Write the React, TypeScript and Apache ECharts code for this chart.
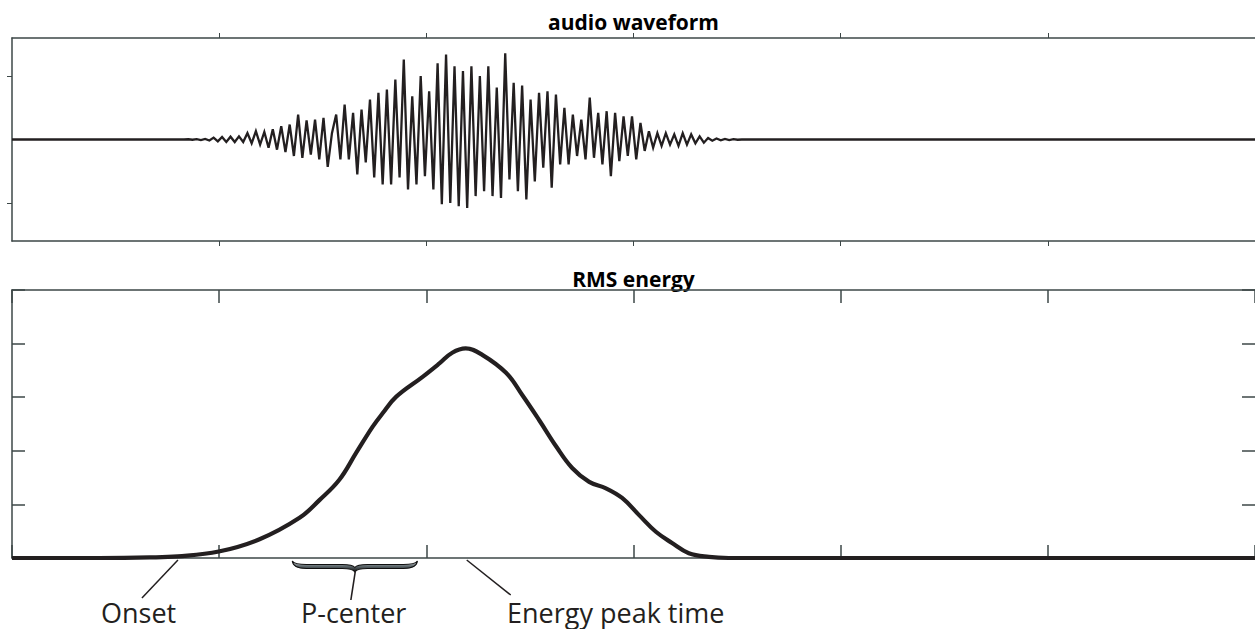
import React, { useEffect, useRef } from "react";
import * as echarts from "echarts";

// ---- data ----
const timeTicks = [0.1, 0.2, 0.3, 0.4, 0.5];
const waveTicks = [-0.5, 0.5];
const waveStart = 0.08304; // s, time of first waveform sample
const waveStep = 0.00204; // s, spacing of waveform samples (half-cycles)
const waveValues = [
  0, 0.002, -0.002, 0.003, -0.004, 0.005, -0.008, 0.015, -0.015, 0.02,
  -0.02, 0.022, -0.02, 0.025, -0.02, 0.05, -0.03, 0.065, -0.04, 0.06,
  -0.065, 0.08, -0.08, 0.105, -0.1, 0.118, -0.13, 0.197, -0.144, 0.15,
  -0.12, 0.157, -0.157, 0.17, -0.215, 0.05, 0.197, -0.157, 0.276, -0.157,
  0.21, -0.276, 0.236, -0.18, 0.315, -0.3, 0.368, -0.354, 0.394, -0.354,
  0.472, -0.3, 0.63, -0.394, 0.34, -0.354, 0.5, -0.29, 0.38, -0.394,
  0.6, -0.51, 0.67, -0.5, 0.577, -0.525, 0.54, -0.54, 0.577, -0.446,
  0.5, -0.407, 0.577, -0.446, 0.41, -0.46, 0.68, -0.315, 0.446, -0.407,
  0.425, -0.472, 0.315, -0.33, 0.368, -0.223, 0.38, -0.38, 0.354, -0.197,
  0.25, -0.197, 0.197, -0.13, 0.157, -0.157, 0.33, -0.144, 0.21, -0.197,
  0.223, -0.29, 0.21, -0.17, 0.183, -0.13, 0.183, -0.157, 0.13, -0.09,
  0.065, -0.065, 0.05, -0.05, 0.05, -0.04, 0.04, -0.05, 0.05, -0.04,
  0.04, -0.03, 0.025, -0.025, 0.012, -0.01, 0.008, -0.006, 0.005, -0.004,
  0.003, -0.002, 0,
];
const rmsTimes = [
  0, 0.042, 0.0665, 0.08, 0.0998, 0.1195, 0.1388, 0.1484, 0.158, 0.1661,
  0.1741, 0.1789, 0.1855, 0.1982, 0.2063, 0.2125, 0.219, 0.227, 0.2386,
  0.2463, 0.2545, 0.2627, 0.2704, 0.2786, 0.2867, 0.2945, 0.3027, 0.3108,
  0.3186, 0.3267, 0.3364, 0.346, 0.6,
];
const rmsValues = [
  0, 0, 0.01, 0.03, 0.12, 0.35, 0.75, 1.08, 1.46, 1.96, 2.45, 2.7, 3.01,
  3.38, 3.63, 3.83, 3.91, 3.79, 3.45, 3.04, 2.57, 2.08, 1.68, 1.42, 1.3,
  1.12, 0.8, 0.49, 0.28, 0.09, 0.02, 0, 0,
];
const titles = ["audio waveform", "RMS energy"];
const onsetTime = 0.0801;
const peakTime = 0.2195;
const pCenterRange = [0.1353, 0.1957];
const labels = ["Onset", "P-center", "Energy peak time"];

const INK = "#231f20";
const AXIS = "#3c4747";
const FONT = "'Open Sans', 'Noto Sans', sans-serif";

const BRACE_D =
  "M0,0 C0.5,5 4,7.5 14,7.5 L50,7.5 C57,7.5 61,8.5 62.5,11 C64,8.5 68,7.5 75,7.5 L111,7.5 C121,7.5 124.5,5 125,0 " +
  "C123,3 119,3.5 111,3.5 L75,3.5 C68,3.5 64,4.5 62.5,6.5 C61,4.5 57,3.5 50,3.5 L14,3.5 C6,3.5 2,3 0,0 Z";
let braceRegistered = false;
function ensureBrace() {
  if (braceRegistered) return;
  echarts.graphic.registerShape("brace", echarts.graphic.extendPath(BRACE_D, {}) as any);
  braceRegistered = true;
}

function axisPair(gridIndex: number, kind: "x" | "y", extra: any) {
  const common = {
    gridIndex,
    type: "value",
    axisLine: { show: true, onZero: false, lineStyle: { color: AXIS, width: 1.5 } },
    axisTick: { show: true, inside: true, length: 13, lineStyle: { color: AXIS, width: 1.5 } },
    axisLabel: { show: false },
    splitLine: { show: false },
    ...extra,
  };
  const pos = kind === "x" ? ["bottom", "top"] : ["left", "right"];
  return pos.map((p) => ({
    ...common,
    position: p,
    // the right-hand frame edge lies just beyond the picture's edge
    axisLine: { ...common.axisLine, show: p !== "right" },
    axisTick: { ...common.axisTick, ...(extra.axisTick || {}) },
  }));
}

export default function App() {
  const ref = useRef<HTMLDivElement>(null);
  useEffect(() => {
    if (!ref.current) return;
    ensureBrace();
    const chart = echarts.init(ref.current, null, { renderer: "svg" });
    const waveData: number[][] = [[0, 0]];
    waveValues.forEach((v, i) => waveData.push([waveStart + i * waveStep, v]));
    waveData.push([0.6, 0]);
    const rmsData = rmsTimes.map((t, i) => [t, rmsValues[i]]);

    const option: any = {
      animation: false,
      backgroundColor: "#ffffff",
      grid: [
        { left: 12, top: 38, width: 1245, height: 203 },
        { left: 12, top: 290, width: 1245, height: 268 },
      ],
      xAxis: [
        ...axisPair(0, "x", { min: 0, max: 0.6, axisTick: { customValues: timeTicks } }),
        ...axisPair(1, "x", { min: 0, max: 0.6, interval: 0.1 }),
      ],
      yAxis: [
        ...axisPair(0, "y", { min: -0.8, max: 0.8, axisTick: { customValues: waveTicks } }),
        ...axisPair(1, "y", { min: 0, max: 5, interval: 1 }),
      ],
      series: [
        {
          type: "line",
          xAxisIndex: 0,
          yAxisIndex: 0,
          data: waveData,
          showSymbol: false,
          silent: true,
          lineStyle: { color: INK, width: 2.3, join: "miter" },
        },
        {
          type: "line",
          xAxisIndex: 2,
          yAxisIndex: 2,
          data: rmsData,
          smooth: 0.4,
          showSymbol: false,
          silent: true,
          clip: false,
          lineStyle: { color: INK, width: 4.2 },
        },
      ],
    };
    chart.setOption(option);

    const px = (t: number) => chart.convertToPixel({ xAxisIndex: 2, yAxisIndex: 2 }, [t, 0]) as number[];
    const [onX, baseY] = px(onsetTime);
    const [pkX] = px(peakTime);
    const [b1] = px(pCenterRange[0]);
    const [b2] = px(pCenterRange[1]);
    const bMid = (b1 + b2) / 2;
    const textY = baseY + 54;
    const centerX = (12 + 1255) / 2;
    const labelStyle = { font: `27px ${FONT}`, fill: INK, textAlign: "left", textVerticalAlign: "middle", lineHeight: 27 };

    chart.setOption({
      graphic: [
        {
          type: "text",
          x: centerX,
          y: 22,
          style: { text: titles[0], font: `bold 21px ${FONT}`, fill: "#000", textAlign: "center", textVerticalAlign: "middle" },
        },
        {
          type: "text",
          x: centerX,
          y: 279,
          style: { text: titles[1], font: `bold 21px ${FONT}`, fill: "#000", textAlign: "center", textVerticalAlign: "middle" },
        },
        {
          type: "line",
          shape: { x1: onX, y1: baseY + 2, x2: onX - 36, y2: baseY + 40 },
          style: { stroke: INK, lineWidth: 1.5 },
        },
        {
          type: "line",
          shape: { x1: pkX, y1: baseY + 2, x2: pkX + 44, y2: baseY + 37 },
          style: { stroke: INK, lineWidth: 1.5 },
        },
        {
          type: "brace",
          x: b1,
          y: baseY + 3,
          scaleX: (b2 - b1) / 125,
          scaleY: 1,
          style: {
            fill: new echarts.graphic.LinearGradient(0, 0, 0, 1, [
              { offset: 0, color: "#c4ccd0" },
              { offset: 0.5, color: "#5a6468" },
              { offset: 1, color: "#0e0e0e" },
            ]),
            stroke: "#101010",
            lineWidth: 1.1,
          },
        },
        {
          type: "line",
          shape: { x1: bMid + 0.5, y1: baseY + 13, x2: bMid - 4, y2: baseY + 42 },
          style: { stroke: INK, lineWidth: 1.6 },
        },
        { type: "text", x: 101, y: textY, style: { text: labels[0], ...labelStyle } },
        { type: "text", x: 301, y: textY, style: { text: labels[1], ...labelStyle } },
        { type: "text", x: 507, y: textY, style: { text: labels[2], ...labelStyle } },
      ],
    });

    return () => chart.dispose();
  }, []);
  return (
    <div
      ref={ref}
      style={{ position: "absolute", left: 0, top: 0, width: 1255, height: 629 }}
    />
  );
}
